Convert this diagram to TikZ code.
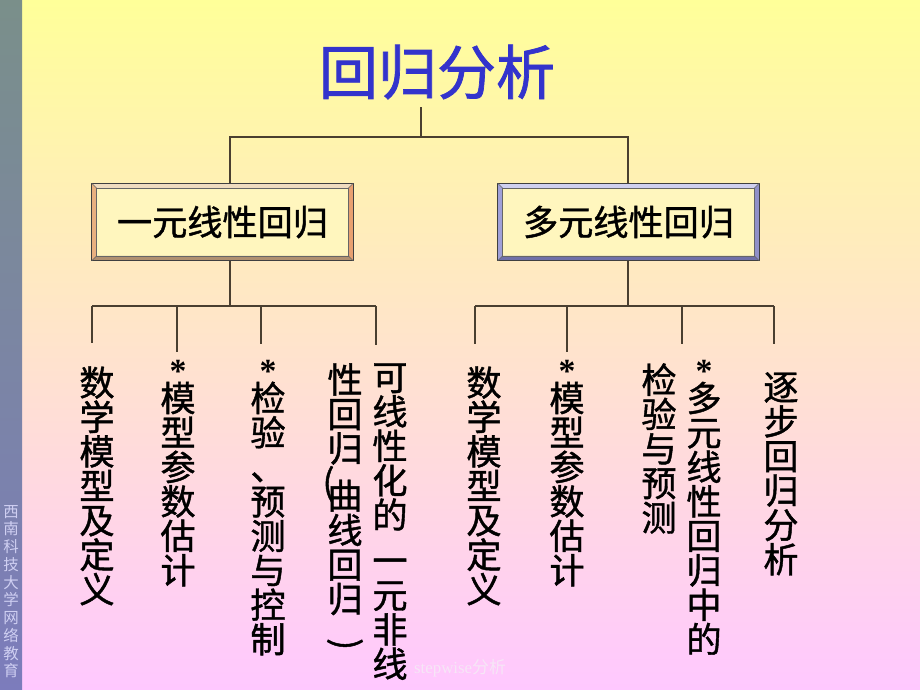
\documentclass[tikz,border=0pt]{standalone}
\usepackage{fontspec}
\setmainfont{Liberation Serif}
\newfontfamily\cjk[FakeBold=1.2]{Noto Sans CJK SC}
\newfontfamily\cjklight{Noto Sans CJK SC}
\usepackage{graphicx}
\usepackage{tikz}
\usetikzlibrary{positioning}
\usepackage{xcolor}
\definecolor{bgtop}{HTML}{FFFF99}
\definecolor{bgbot}{HTML}{FFC8FF}
\definecolor{striptop}{HTML}{7A8F8A}
\definecolor{stripbot}{HTML}{7C7CBC}
\definecolor{stripink}{HTML}{CFCFF2}
\definecolor{titleblue}{HTML}{3333CC}
\definecolor{boxfill}{HTML}{FFF6BE}
\definecolor{treeline}{HTML}{4A3F30}
\definecolor{footink}{HTML}{F6E6F6}

\tikzset{
  tline/.style={draw=treeline, line width=0.8pt},
  bevelbox/.style={draw=black!70, fill=boxfill, inner sep=0pt,
    minimum width=6.525cm, minimum height=1.925cm,
    font=\cjk\fontsize{25}{25}\selectfont},
  vcol/.style={align=center, inner sep=0pt, anchor=north,
    font=\cjk\fontsize{25}{24.5}\selectfont},
}
\newcommand{\starmark}{{\rmfamily\bfseries\fontsize{24}{24}\selectfont *}\\[-4pt]}

\begin{document}
\begin{tikzpicture}[x=0.025cm, y=-0.025cm]
  \useasboundingbox (0,0) rectangle (920,690);
  \shade[top color=bgtop, bottom color=bgbot] (22,0) rectangle (920,690);
  \shade[top color=striptop, bottom color=stripbot] (0,0) rectangle (22,690);

  \node[align=center, inner sep=0pt, anchor=north, text=stripink,
    font=\cjklight\fontsize{11}{12.6}\selectfont] (school) at (11,505)
    {西\\南\\科\\技\\大\\学\\网\\络\\教\\育};

  \node[text=titleblue, font=\cjk\fontsize{42}{42}\selectfont] (ttl) at (437,72) {回归分析};

  \node[bevelbox] (lbox) at (222.5,222) {一元线性回归};
  \node[bevelbox] (rbox) at (628.5,222) {多元线性回归};

  % bevel frames
  \foreach \b/\ct/\cl/\cr/\cb in {lbox/F0DCC0/E8B080/E8A070/B09070,
                                  rbox/D0D0F0/A0A0D8/9090C8/7070A8} {
    \definecolor{bvT}{HTML}{\ct}\definecolor{bvL}{HTML}{\cl}
    \definecolor{bvR}{HTML}{\cr}\definecolor{bvB}{HTML}{\cb}
    \fill[bvT] (\b.north west) -- (\b.north east) -- ([shift={(-5,5)}]\b.north east) -- ([shift={(5,5)}]\b.north west) -- cycle;
    \fill[bvL] (\b.north west) -- (\b.south west) -- ([shift={(5,-5)}]\b.south west) -- ([shift={(5,5)}]\b.north west) -- cycle;
    \fill[bvR] (\b.north east) -- (\b.south east) -- ([shift={(-5,-5)}]\b.south east) -- ([shift={(-5,5)}]\b.north east) -- cycle;
    \fill[bvB] (\b.south west) -- (\b.south east) -- ([shift={(-5,-5)}]\b.south east) -- ([shift={(5,-5)}]\b.south west) -- cycle;
    \draw[black!75, line width=0.8pt] (\b.north west) rectangle (\b.south east);
    \draw[black!60, line width=0.4pt] ([shift={(5,5)}]\b.north west) rectangle ([shift={(-5,-5)}]\b.south east);
    \draw[black!60, line width=0.4pt] (\b.north west) -- ([shift={(5,5)}]\b.north west)
      (\b.north east) -- ([shift={(-5,5)}]\b.north east)
      (\b.south west) -- ([shift={(5,-5)}]\b.south west)
      (\b.south east) -- ([shift={(-5,-5)}]\b.south east);
  }

  \coordinate (ttl-s) at (421,107);
  \coordinate (bus-l) at (230,137);
  \coordinate (bus-r) at (628,137);
  \coordinate (rail) at (0,306);
  \draw[tline] (ttl-s) -- (ttl-s |- bus-l);
  \draw[tline] (bus-l |- lbox.north) -- (bus-l) -- (bus-r) -- (bus-r |- rbox.north);
  \draw[tline] (bus-l |- lbox.south) -- (bus-l |- rail);
  \draw[tline] (bus-r |- rbox.south) -- (bus-r |- rail);

  \foreach \n/\x/\e in {a/92/343, b/177/352, c/261/344, d/376/345,
                        e/475/344, f/567/352, g/682/344, h/774/344}
    \coordinate (end-\n) at (\x,\e);
  \draw[tline] (end-a |- rail) -- (end-d |- rail);
  \draw[tline] (end-e |- rail) -- (end-h |- rail);
  \foreach \n in {a,b,c,d,e,f,g,h}
    \draw[tline] (end-\n |- rail) -- (end-\n);

  \node[vcol] (lt-1) at (97,366) {数\\学\\模\\型\\及\\定\\义};
  \node[vcol] (lt-2) at (178,360) {\starmark 模\\型\\参\\数\\估\\计};
  \node[vcol] (lt-3) at (268,360) {\starmark 检\\验\\、\\预\\测\\与\\控\\制};
  \node[vcol] (lt-4a) at (390,363) {可\\线\\性\\化\\的\\[8pt]一\\元\\非\\线};
  \node[vcol] (lt-4b) at (345,363) {性\\回\\归\\\llap{\raisebox{10pt}{(}\kern-5pt}曲\\线\\回\\归\\[-6pt]\rotatebox{-90}{)}};

  \node[vcol] (rt-1) at (484,366) {数\\学\\模\\型\\及\\定\\义};
  \node[vcol] (rt-2) at (567,360) {\starmark 模\\型\\参\\数\\估\\计};
  \node[vcol] (rt-3a) at (704,360) {\starmark 多\\元\\线\\性\\回\\归\\中\\的};
  \node[vcol] (rt-3b) at (659,363) {检\\验\\与\\预\\测};
  \node[vcol] (rt-4) at (781,372) {逐\\步\\回\\归\\分\\析};

  \node[text=footink, font=\fontsize{12}{12}\selectfont] (foot) at (460,668) {stepwise{\cjklight 分析}};
\end{tikzpicture}
\end{document}
